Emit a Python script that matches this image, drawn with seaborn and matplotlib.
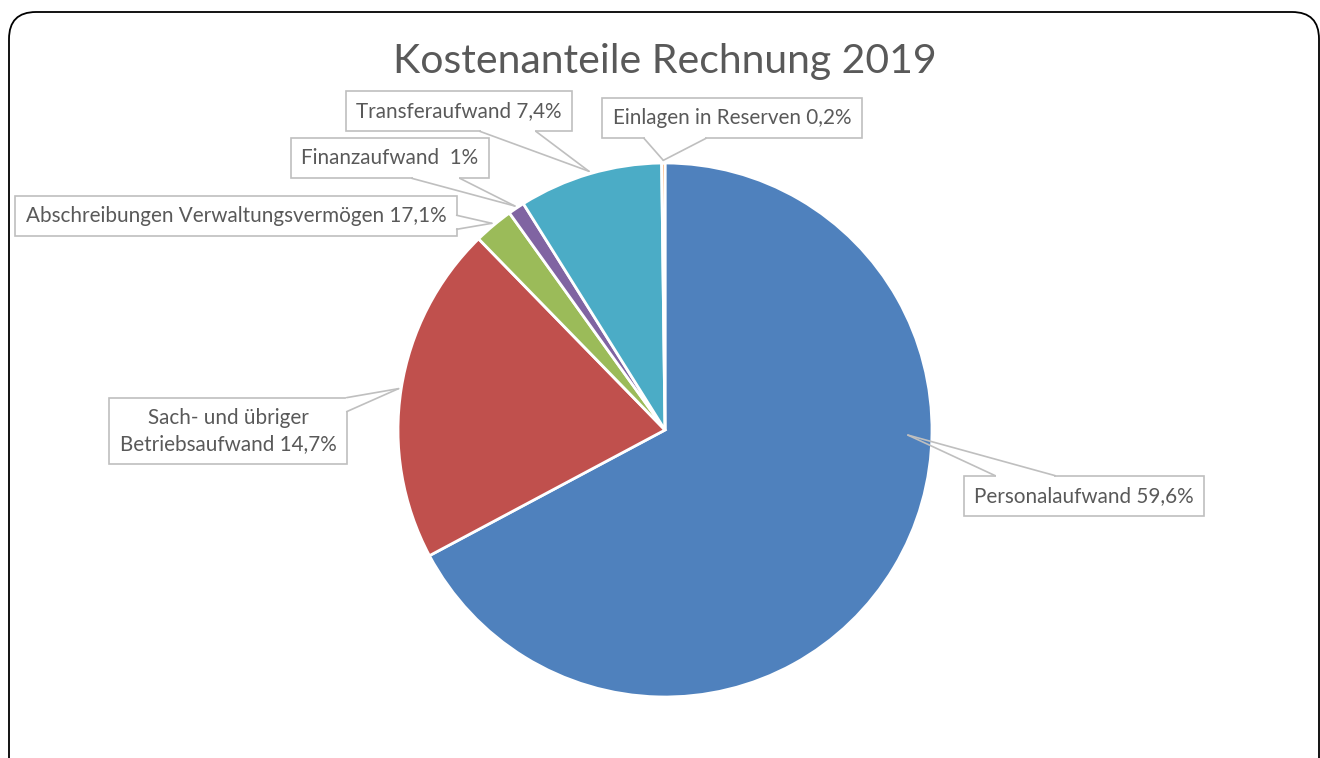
import matplotlib
matplotlib.use('Agg')
import matplotlib.pyplot as plt
from matplotlib.patches import FancyBboxPatch
from matplotlib.lines import Line2D
from matplotlib.transforms import IdentityTransform
import seaborn as sns
import numpy as np

# slice sizes as drawn (percent of the circle), labels as printed in the chart
categories = ['Personalaufwand', 'Sach- und übriger\nBetriebsaufwand',
              'Abschreibungen Verwaltungsvermögen', 'Finanzaufwand ',
              'Transferaufwand', 'Einlagen in Reserven']
slice_values = [67.2, 20.5, 2.4, 1.0, 8.7, 0.2]
label_pcts = ['59,6%', '14,7%', '17,1%', '1%', '7,4%', '0,2%']
colors = ['#4F81BD', '#C0504D', '#9BBB59', '#8064A2', '#4BACC6', '#F79646']

W, H = 1320, 758
# label box centres in pixels (x, y from top), callout base width / shift in px
label_pos = [(1084, 496), (228, 431), (236, 216), (390, 158), (459, 111), (732, 118)]
base_px = [60, 14, 14, 48, 56, 62]
base_shift = [0, 0, 0, -7, 5, -24]
tip_angle = [-1.2, None, None, None, None, None]
tip_radius = [0.91, 1.01, 1.01, 1.01, 1.01, 1.01]

sns.set_theme(style='white')
plt.rcParams['font.family'] = ['Lato', 'DejaVu Sans']

fig = plt.figure(figsize=(W / 100, H / 100), dpi=100)

# rounded outer frame (in inches), bottom runs off the picture
frame = FancyBboxPatch((0.09, -0.5), 13.10, H / 100 - 0.12 + 0.5,
                       boxstyle='round,pad=0,rounding_size=0.27',
                       transform=fig.dpi_scale_trans, fc='none', ec='black',
                       lw=1.3, zorder=-1)
fig.patches.append(frame)

cx, cy, r = 665, 430, 267
ax = fig.add_axes([(cx - r) / W, (H - cy - r) / H, 2 * r / W, 2 * r / H])
wedges, _ = ax.pie(slice_values, colors=sns.color_palette(colors),
                   startangle=90, counterclock=False,
                   wedgeprops=dict(edgecolor='white', linewidth=2.0))
ax.set_xlim(-1, 1)
ax.set_ylim(-1, 1)
ax.set_aspect('equal')
ax.axis('off')

fs = 14.9
gray = '#BFBFBF'
texts, tips = [], []
for i, w in enumerate(wedges):
    ang = tip_angle[i] if tip_angle[i] is not None else (w.theta1 + w.theta2) / 2
    rr = tip_radius[i]
    tips.append((rr * np.cos(np.radians(ang)), rr * np.sin(np.radians(ang))))
    tx, ty = label_pos[i]
    t = ax.text(tx / W, 1 - ty / H, f'{categories[i]} {label_pcts[i]}',
                transform=fig.transFigure, ha='center', va='center',
                fontsize=fs, color='#595959', linespacing=1.38, zorder=3,
                bbox=dict(boxstyle='square,pad=0.5', fc='white', ec=gray, lw=1.2))
    texts.append(t)

# callout pointers: two lines from the box edge to the slice
fig.canvas.draw()
renderer = fig.canvas.get_renderer()
for i, t in enumerate(texts):
    bb = t.get_bbox_patch().get_window_extent(renderer)
    c = np.array([(bb.x0 + bb.x1) / 2, (bb.y0 + bb.y1) / 2])
    p = np.array(ax.transData.transform(tips[i]))
    d = p - c
    tx_ = (bb.width / 2) / abs(d[0]) if d[0] != 0 else np.inf
    ty_ = (bb.height / 2) / abs(d[1]) if d[1] != 0 else np.inf
    hb = base_px[i] / 2
    if tx_ < ty_:
        ex = bb.x1 if d[0] > 0 else bb.x0
        ym = c[1] + d[1] * tx_ - base_shift[i]
        y1 = np.clip(ym - hb, bb.y0, bb.y1 - 2 * hb)
        b1, b2 = (ex, y1), (ex, y1 + 2 * hb)
    else:
        ey = bb.y1 if d[1] > 0 else bb.y0
        xm = c[0] + d[0] * ty_ + base_shift[i]
        x1 = np.clip(xm - hb, bb.x0, bb.x1 - 2 * hb)
        b1, b2 = (x1, ey), (x1 + 2 * hb, ey)
    sx, sy = np.sign(b2[0] - b1[0]), np.sign(b2[1] - b1[1])
    ax.add_line(Line2D([b1[0] + 0.8 * sx, b2[0] - 0.8 * sx],
                       [b1[1] + 0.8 * sy, b2[1] - 0.8 * sy],
                       transform=IdentityTransform(), color='white', lw=1.6,
                       zorder=3.5, solid_capstyle='butt', clip_on=False))
    for b in (b1, b2):
        ax.add_line(Line2D([b[0], p[0]], [b[1], p[1]], transform=IdentityTransform(),
                           color=gray, lw=1.2, zorder=3.6, clip_on=False))

fig.text(cx / W, 1 - 61 / H, 'Kostenanteile Rechnung 2019', ha='center',
         va='center', fontsize=29.5, color='#595959')

plt.savefig('out.png', dpi=100)
plt.close()
